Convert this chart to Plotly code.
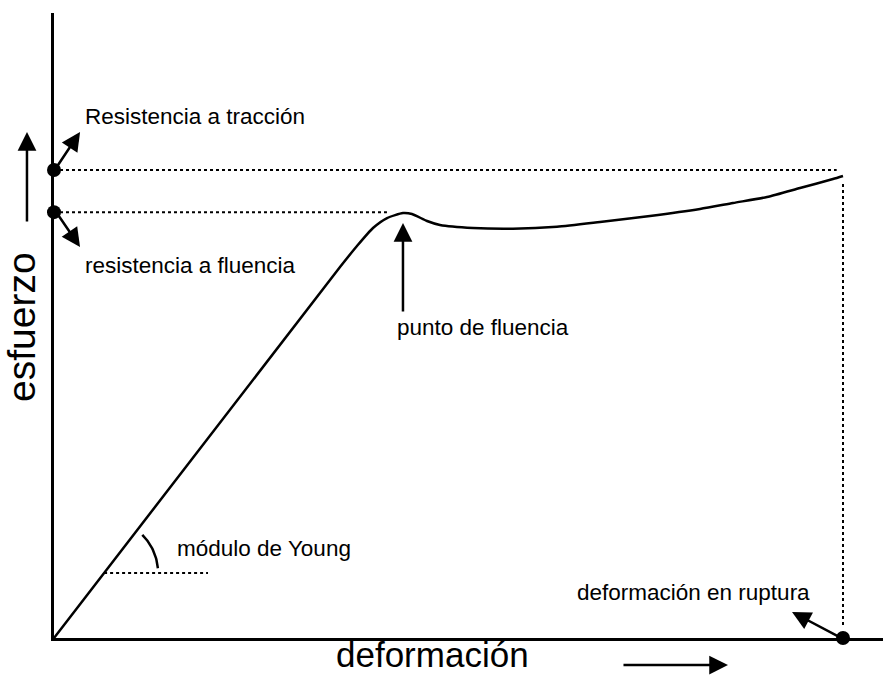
import numpy as np
import plotly.graph_objects as go

# Curva esfuerzo-deformación (unidades normalizadas: ruptura = 1, resistencia a tracción = 1)
deformacion = [0.0, 0.3625, 0.3840, 0.4043, 0.4221, 0.4423, 0.4537, 0.4728, 0.4892,
               0.5311, 0.5817, 0.6375, 0.6920, 0.7554, 0.8188, 0.8606, 0.9037,
               0.9455, 0.9873, 1.0]
esfuerzo = [0.0, 0.7927, 0.8376, 0.8761, 0.8974, 0.9081, 0.9060, 0.8910, 0.8825,
            0.8761, 0.8746, 0.8788, 0.8889, 0.9017, 0.9167, 0.9295, 0.9423,
            0.9615, 0.9808, 0.9872]

resistencia_traccion = 1.0
resistencia_fluencia = 0.91
deformacion_fluencia = 0.4423
deformacion_ruptura = 1.0

# nivel de referencia para el ángulo del módulo de Young
young_y = 0.1389
young_x = [0.0635, 0.1952]

fuente = "Liberation Sans, Arial, sans-serif"
negro = "#000000"

fig = go.Figure()

# curva
fig.add_trace(go.Scatter(x=deformacion, y=esfuerzo, mode="lines",
                         line=dict(color=negro, width=2.5, shape="spline", smoothing=0.6),
                         hoverinfo="skip"))

# líneas punteadas
fig.add_trace(go.Scatter(x=[0, 0.992], y=[resistencia_traccion, resistencia_traccion],
                         mode="lines", line=dict(color=negro, width=2, dash="dot")))
fig.add_trace(go.Scatter(x=[0, 0.422], y=[resistencia_fluencia, resistencia_fluencia],
                         mode="lines", line=dict(color=negro, width=2, dash="dot")))
fig.add_trace(go.Scatter(x=[deformacion_ruptura, deformacion_ruptura], y=[0.028, 0.976],
                         mode="lines", line=dict(color=negro, width=2, dash="dot")))
fig.add_trace(go.Scatter(x=young_x, y=[young_y, young_y],
                         mode="lines", line=dict(color=negro, width=2, dash="dot")))

# arco del ángulo
ang = np.radians(np.linspace(5, 45, 30))
fig.add_trace(go.Scatter(x=young_x[0] + 54 / 789 * np.cos(ang),
                         y=young_y + 54 / 468 * np.sin(ang),
                         mode="lines", line=dict(color=negro, width=2.5)))

# puntos
fig.add_trace(go.Scatter(x=[0, 0, deformacion_ruptura],
                         y=[resistencia_traccion, resistencia_fluencia, 0],
                         mode="markers", marker=dict(color=negro, size=14),
                         cliponaxis=False))

flecha = dict(showarrow=True, text="", arrowhead=2, arrowsize=1.5,
              arrowwidth=2.5, arrowcolor=negro, axref="pixel", ayref="pixel")
# (x, y, ax, ay, referencia)
flechas = [
    (0.033, 1.0812, -26, 39, "x"),
    (0.033, 0.8355, -26, -38, "x"),
    (-0.0326, 0.8096, 0, 91, "paper"),
    (deformacion_fluencia, 0.8868, 0, 90, "x"),
    (0.9354, 0.0556, 51, 27, "x"),
    (0.8130, -0.0432, -106, 0, "paper"),
]
for x, y, ax, ay, ref in flechas:
    fig.add_annotation(x=x, y=y, ax=ax, ay=ay,
                       xref=ref, yref="paper" if ref == "paper" else "y", **flecha)

etiquetas = [
    ("Resistencia a tracción", 0.0368, 1.1154),
    ("resistencia a fluencia", 0.0368, 0.797),
    ("punto de fluencia", 0.4322, 0.6645),
    ("módulo de Young", 0.1534, 0.1923),
    ("deformación en ruptura", 0.6603, 0.0962),
]
for texto, x, y in etiquetas:
    fig.add_annotation(x=x, y=y, text=texto, showarrow=False, xanchor="left",
                       yanchor="middle", font=dict(family=fuente, size=22.5, color=negro))

fig.add_annotation(x=0.4566, y=-0.0592, xref="paper", yref="paper",
                   text="deformación", showarrow=False, borderpad=0,
                   xanchor="center", yanchor="bottom",
                   font=dict(family=fuente, size=35, color=negro))
fig.add_annotation(x=-0.0398, y=0.4976, xref="paper", yref="paper",
                   text="esfuerzo", showarrow=False, textangle=-90,
                   xanchor="center", yanchor="middle",
                   font=dict(family=fuente, size=39, color=negro))

eje = dict(showgrid=False, zeroline=False, showticklabels=False, ticks="",
           showline=True, linecolor=negro, linewidth=3)
fig.update_xaxes(range=[0, 1.0507], **eje)
fig.update_yaxes(range=[0, 1.3355], **eje)

fig.update_layout(
    width=883, height=675,
    margin=dict(l=54, r=0, t=13, b=37),
    plot_bgcolor="white",
    paper_bgcolor="white",
    showlegend=False
)
fig.write_html("out.html", config={"displayModeBar": False},
               post_script="document.body.style.margin = '0';")
